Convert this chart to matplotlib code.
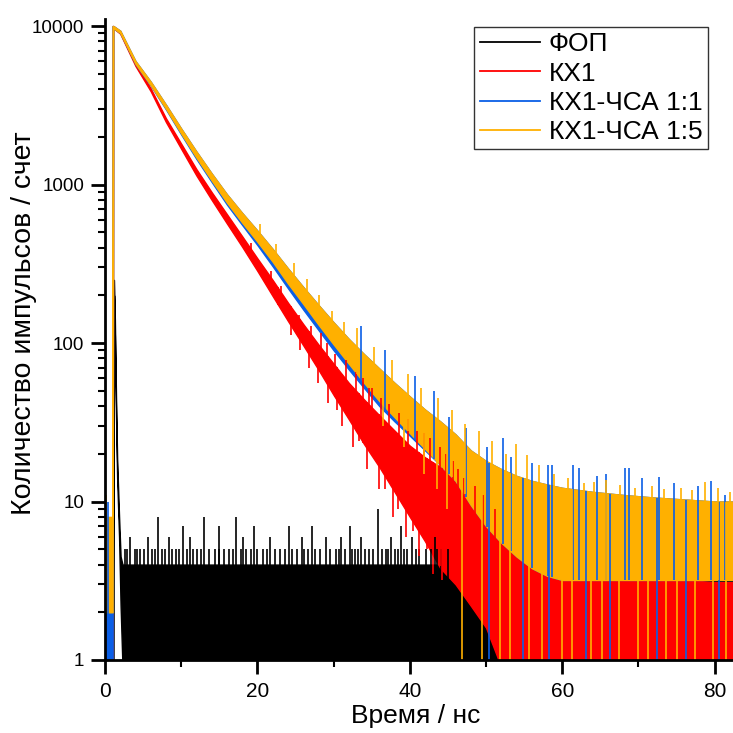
import numpy as np
import matplotlib.pyplot as plt
from matplotlib.lines import Line2D

plt.rcParams['font.family'] = ['Liberation Sans', 'DejaVu Sans']

# ФОП (instrument response): peak and noisy floor
t_ofp = [0.0, 1.0, 1.12, 1.18, 1.3, 1.45, 1.6, 1.85, 2.05, 2.3, 83.0]
ofp_lo = [0.9, 0.9, 0.9, 200, 110, 35, 14, 6.0, 2.2, 0.9, 0.9]
ofp_hi = [0.9, 0.9, 250, 250, 140, 45, 18, 8.0, 4.5, 4.0, 4.0]
ofp_spike_t = [2.6, 3.9, 4.6, 6.2, 7.5, 9.3, 10.8, 12.1, 13.7, 14.4, 16.3, 17.8,
               19.1, 20.7, 22.9, 23.6, 25.2, 26.6, 28.2, 30.3, 31.5, 32.8, 34.1,
               35.2, 36.9, 38.4, 39.6, 41.2, 42.8, 44.1,
               2.9, 4.2, 5.1, 6.6, 7.9, 8.8, 9.7, 11.5, 12.6, 14.9, 15.6, 16.8,
               18.5, 19.9, 21.2, 22.3, 24.6, 26.1, 27.6, 29.5, 30.7, 32.4, 33.2,
               34.6, 36.3, 37.2, 38.0, 39.2, 40.8, 42.1, 43.6, 45.0,
               3.3, 5.6, 8.4, 11.1, 18.1, 21.6, 25.9, 29.0, 31.0, 33.6, 37.5,
               40.3, 43.3,
               10.2, 15.0, 19.6, 24.2, 27.2, 32.2, 38.9,
               6.9, 13.0, 17.2, 35.8]
ofp_spike_v = [5] * 62 + [6] * 13 + [7] * 7 + [8] * 3 + [9]

# common time grid of the decay curves, ns
t_dec = [0.0, 0.95, 1.0, 1.1, 2, 4, 6, 8, 10, 12, 14, 16, 18, 20, 22, 24, 26,
         28, 30, 32, 34, 36, 38, 40, 42, 44, 46, 48, 50, 52, 54, 56, 58, 60,
         64, 68, 72, 76, 80, 83]

# КХ1
kx1_lo = [0.9, 0.9, 0.9, 9700, 8950, 5600, 3880, 2480, 1680, 1140, 800, 568,
          405, 285, 198, 138, 97, 68, 47, 33, 23, 16.5, 11.5, 8, 5.6, 3.8, 3.0,
          2.2, 1.6, 0.9, 0.9, 0.9, 0.9, 0.9, 0.9, 0.9, 0.9, 0.9, 0.9, 0.9]
kx1_hi = [2.0, 2.0, 10000, 10000, 9250, 5820, 4040, 2620, 1810, 1250, 895, 650,
          472, 342, 250, 180, 132, 98, 74, 56, 44, 35, 28, 22.5, 19, 16.5,
          13.5, 11, 9, 7.5, 6, 5, 4.3, 4.0, 3.6, 3.4, 3.3, 3.2, 3.1, 3.1]
kx1_spike_t = [19.2, 21.8, 23.1, 25.5, 27.0, 28.3, 29.1, 30.2, 31.6, 32.9, 33.9,
               34.6, 35.0, 36.2, 37.3, 38.6, 39.7, 40.9, 41.8, 42.6, 43.9, 44.8,
               45.6, 46.3, 47.1, 48.5, 49.6, 51.2]
kx1_spike_v = [430, 285, 230, 150, 128, 115, 100, 85, 78, 66, 60, 52, 52, 45,
               41, 36, 33, 28, 27, 25, 22, 20, 18, 16, 14, 12.5, 11, 9]
kx1_dip_t = [22.7, 24.4, 25.6, 26.8, 28.0, 29.3, 30.4, 31.1, 32.6, 33.3, 34.4,
             35.9, 36.8, 37.8, 38.4, 39.5, 40.4, 41.2, 42.2, 43.0, 44.2]
kx1_dip_v = [175, 112, 90, 70, 56, 42, 38, 30, 22, 24, 16, 12, 12, 8, 9, 6,
             6.5, 4.5, 5, 3.5, 3.2]

# КХ1-ЧСА 1:5
k15_lo = [2.0, 2.0, 2.0, 9700, 9050, 5780, 4240, 3010, 2100, 1480, 1062, 770,
          576, 436, 326, 238, 177, 131, 98, 74, 56, 43, 34, 27, 21.5, 17, 13.5,
          9.5, 7, 5.5, 4.5, 3.8, 3.4, 3.2, 3.2, 3.2, 3.2, 3.2, 3.2, 3.2]
k15_hi = [8.0, 8.0, 10000, 10000, 9350, 6020, 4460, 3190, 2255, 1615, 1175, 868,
          662, 512, 392, 296, 226, 174, 135, 106, 85, 69, 56, 46, 38, 32, 26.5,
          21, 18, 16, 14.5, 13.5, 12.8, 12.2, 11.5, 11, 10.6, 10.3, 10, 10]
k15_spike_t = [0.1, 20.4, 22.5, 24.8, 26.5, 28.1, 29.8, 31.4, 33.1, 35.3, 37.6,
               39.8, 41.5, 43.7, 45.5, 47.2, 49.1, 50.8, 52.6, 53.9, 55.4, 57.0,
               58.9, 60.7, 62.9, 64.1, 65.8, 67.6, 69.5, 71.8, 73.3, 75.6, 77.0,
               78.7, 80.4, 82.0]
k15_spike_v = [11, 560, 420, 320, 255, 200, 160, 135, 125, 95, 78, 64, 52, 45,
               38, 31, 28, 24, 20, 23, 19.6, 17, 15, 14, 13, 13.2, 13.6, 12.8,
               12.2, 12.5, 12, 12.2, 11.8, 13.3, 12.2, 11.5]
k15_dip_t = [36.5, 39.2, 41.8, 43.5, 44.9,
             46.9, 49.5, 51.8, 53.2, 55.7, 57.4, 59.9, 61.3, 63.8, 65.2, 67.5,
             69.9, 71.2, 73.6, 75.1, 77.4, 79.8, 81.5]
k15_dip_v = [30, 22, 15, 12, 9] + [0.9] * 18

# КХ1-ЧСА 1:1
k11_lo = [0.9, 0.9, 0.9, 9700, 9040, 5750, 4210, 2980, 2070, 1450, 1038, 748,
          556, 415, 305, 222, 163, 121, 90, 68, 52, 40, 32, 26, 21, 17, 13.5,
          9.5, 7, 5.5, 4.5, 3.8, 3.4, 3.2, 3.2, 3.2, 3.2, 3.2, 3.2, 3.2]
k11_hi = [7.0, 7.0, 10000, 10000, 9350, 6020, 4460, 3190, 2255, 1615, 1175, 868,
          662, 512, 392, 296, 226, 174, 135, 106, 85, 69, 56, 46, 38, 32, 26.5,
          21, 18, 16, 14.5, 13.5, 12.8, 12.2, 11.5, 11, 10.6, 10.3, 10, 10]
k11_spike_t = [0.45, 33.6, 36.8, 40.7, 43.2, 45.2, 47.4, 50.1, 52.2, 53.3, 56.0,
               58.1, 58.7, 61.4, 62.2, 64.6, 65.7, 68.2, 68.8, 70.5, 72.7, 74.7,
               77.8, 79.5, 81.3]
k11_spike_v = [10, 128, 90, 62, 50, 34, 29, 22, 25, 19, 17.5, 16.9, 16.9, 16.9,
               16.2, 14.5, 15, 16.2, 16.2, 14, 14.3, 13, 12.5, 13.5, 11]
k11_dip_t = [50.4, 54.8, 58.2, 63.1, 66.3, 72.4, 76.2, 80.6]

labels = ['ФОП', 'КХ1', 'КХ1-ЧСА 1:1', 'КХ1-ЧСА 1:5']
colors = ['#000000', '#ff0000', '#0a5fe6', '#ffb000']

fig, ax = plt.subplots(figsize=(7.33, 7.33), dpi=100)
fig.subplots_adjust(left=0.1432, right=1.0, bottom=0.0996, top=0.974)


def draw(t, lo, hi, color, spike_t=(), spike_v=(), dip_t=(), dip_v=None):
    ax.fill_between(t, lo, hi, color=color, lw=1.0, edgecolor=color)
    if len(spike_t):
        base = np.interp(spike_t, t, lo)
        ax.vlines(spike_t, base, spike_v, colors=color, lw=1.2)
    if len(dip_t):
        top = np.interp(dip_t, t, hi)
        bottom = dip_v if dip_v is not None else [0.9] * len(dip_t)
        ax.vlines(dip_t, bottom, top, colors=color, lw=1.2)


draw(t_ofp, ofp_lo, ofp_hi, colors[0], ofp_spike_t, ofp_spike_v)
draw(t_dec, kx1_lo, kx1_hi, colors[1], kx1_spike_t, kx1_spike_v, kx1_dip_t, kx1_dip_v)
draw(t_dec, k11_lo, k11_hi, colors[2], k11_spike_t, k11_spike_v, k11_dip_t)
draw(t_dec, k15_lo, k15_hi, colors[3], k15_spike_t, k15_spike_v, k15_dip_t, k15_dip_v)

ax.set_yscale('log')
ax.set_xlim(0, 82.4)
ax.set_ylim(1, 11070)
ax.set_yticks([1, 10, 100, 1000, 10000])
ax.set_yticklabels(['1', '10', '100', '1000', '10000'])
ax.set_xticks([0, 20, 40, 60, 80])
ax.set_xticks([10, 30, 50, 70], minor=True)

for side in ['top', 'right']:
    ax.spines[side].set_visible(False)
for side in ['left', 'bottom']:
    ax.spines[side].set_linewidth(2)

ax.tick_params(axis='both', which='major', length=10, width=2, direction='out')
ax.tick_params(axis='both', which='minor', length=5, width=1.5, direction='out')
ax.tick_params(axis='x', labelsize=15, pad=6)
ax.tick_params(axis='y', labelsize=13.5, pad=5)

ax.set_xlabel('Время / нс', fontsize=19)
ax.set_ylabel('Количество импульсов / счет', fontsize=20.5)
ax.xaxis.set_label_coords(0.494, -0.068)
ax.yaxis.set_label_coords(-0.108, 0.526)

handles = [Line2D([], [], color=c, lw=1.3) for c in colors]
ax.legend(handles, labels, loc='upper right', bbox_to_anchor=(0.96, 0.9875),
          fontsize=19, frameon=True, fancybox=False, edgecolor='#333333',
          framealpha=1, handlelength=2.3, handletextpad=0.33, labelspacing=0.2,
          borderpad=0.2, borderaxespad=0)

fig.savefig('out.png', dpi=100)
